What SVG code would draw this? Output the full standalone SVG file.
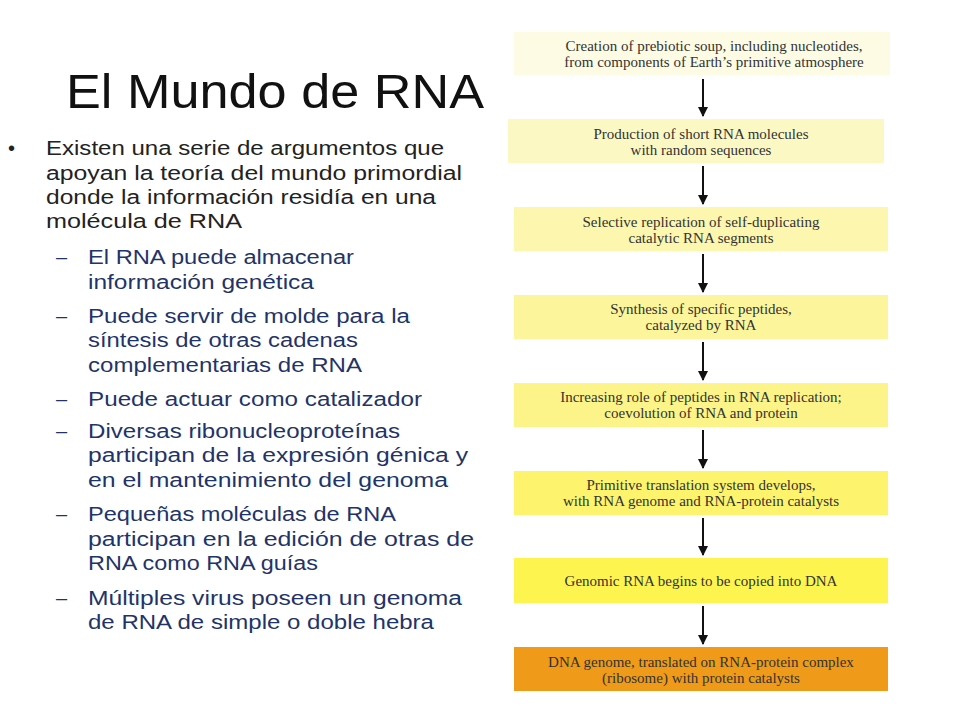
<svg xmlns="http://www.w3.org/2000/svg" width="960" height="720" viewBox="0 0 960 720">
<style>
.t{font-family:"Liberation Sans",Arial,sans-serif;font-size:20px;fill:#222}
.s{font-family:"Liberation Sans",Arial,sans-serif;font-size:20px;fill:#1f3468}
text[textLength]{}
.b{font-family:"Liberation Serif","DejaVu Serif",serif;font-size:15px;fill:#333;text-anchor:middle}
.c line{stroke:#111;stroke-width:2;marker-end:url(#a)}
</style>
<defs><marker id="a" viewBox="0 0 10 10" refX="9" refY="5" markerWidth="5" markerHeight="5" orient="auto"><path d="M0,0L10,5L0,10z" fill="#111"/></marker></defs>
<rect width="960" height="720" fill="#fff"/>
<text x="66" y="108" style="font-family:'Liberation Sans',Arial,sans-serif;font-size:48px;fill:#111" textLength="418" lengthAdjust="spacingAndGlyphs">El Mundo de RNA</text>
<g id="text" lengthAdjust="spacingAndGlyphs">
<text class="t" x="8" y="155">•</text>
<text class="t" x="46" y="155" textLength="398" lengthAdjust="spacingAndGlyphs">Existen una serie de argumentos que</text>
<text class="t" x="46" y="180" textLength="416" lengthAdjust="spacingAndGlyphs">apoyan la teoría del mundo primordial</text>
<text class="t" x="46" y="204" textLength="390" lengthAdjust="spacingAndGlyphs">donde la información residía en una</text>
<text class="t" x="46" y="228" textLength="196" lengthAdjust="spacingAndGlyphs">molécula de RNA</text>
<text class="s" x="56" y="264">–</text>
<text class="s" x="88" y="264" textLength="266" lengthAdjust="spacingAndGlyphs">El RNA puede almacenar</text>
<text class="s" x="88" y="289" textLength="226" lengthAdjust="spacingAndGlyphs">información genética</text>
<text class="s" x="56" y="323">–</text>
<text class="s" x="88" y="323" textLength="322" lengthAdjust="spacingAndGlyphs">Puede servir de molde para la</text>
<text class="s" x="88" y="347" textLength="270" lengthAdjust="spacingAndGlyphs">síntesis de otras cadenas</text>
<text class="s" x="88" y="372" textLength="274" lengthAdjust="spacingAndGlyphs">complementarias de RNA</text>
<text class="s" x="56" y="406">–</text>
<text class="s" x="88" y="406" textLength="334" lengthAdjust="spacingAndGlyphs">Puede actuar como catalizador</text>
<text class="s" x="56" y="438">–</text>
<text class="s" x="88" y="438" textLength="312" lengthAdjust="spacingAndGlyphs">Diversas ribonucleoproteínas</text>
<text class="s" x="88" y="462" textLength="380" lengthAdjust="spacingAndGlyphs">participan de la expresión génica  y</text>
<text class="s" x="88" y="487" textLength="360" lengthAdjust="spacingAndGlyphs">en el mantenimiento del genoma</text>
<text class="s" x="56" y="521">–</text>
<text class="s" x="88" y="521" textLength="308" lengthAdjust="spacingAndGlyphs">Pequeñas moléculas de RNA</text>
<text class="s" x="88" y="546" textLength="386" lengthAdjust="spacingAndGlyphs">participan en la edición de otras  de</text>
<text class="s" x="88" y="570" textLength="230" lengthAdjust="spacingAndGlyphs">RNA como RNA guías</text>
<text class="s" x="56" y="605">–</text>
<text class="s" x="88" y="605" textLength="374" lengthAdjust="spacingAndGlyphs">Múltiples virus poseen un genoma</text>
<text class="s" x="88" y="629" textLength="346" lengthAdjust="spacingAndGlyphs">de RNA de simple o doble hebra</text>
</g>
<g class="c" id="connectors">
<line x1="703" y1="79" x2="703" y2="116"/>
<line x1="703" y1="166" x2="703" y2="204"/>
<line x1="703" y1="254" x2="703" y2="292"/>
<line x1="703" y1="342" x2="703" y2="380"/>
<line x1="703" y1="430" x2="703" y2="468"/>
<line x1="703" y1="518" x2="703" y2="555"/>
<line x1="703" y1="606" x2="703" y2="644"/>
</g>
<g id="n1"><rect x="514" y="32" width="376" height="43" fill="#fdfbe3"/><text class="b" x="714" y="51">Creation of prebiotic soup, including nucleotides,</text><text class="b" x="714" y="67">from components of Earth’s primitive atmosphere</text></g>
<g id="n2"><rect x="508" y="119" width="376" height="44" fill="#fcf8c4"/><text class="b" x="701" y="139">Production of short RNA molecules</text><text class="b" x="701" y="155">with random sequences</text></g>
<g id="n3"><rect x="514" y="207" width="374" height="44" fill="#fcf6ae"/><text class="b" x="701" y="227">Selective replication of self-duplicating</text><text class="b" x="701" y="243">catalytic RNA segments</text></g>
<g id="n4"><rect x="514" y="295" width="374" height="44" fill="#fcf59c"/><text class="b" x="701" y="314">Synthesis of specific peptides,</text><text class="b" x="701" y="330">catalyzed by RNA</text></g>
<g id="n5"><rect x="514" y="383" width="374" height="44" fill="#fcf488"/><text class="b" x="701" y="402">Increasing role of peptides in RNA replication;</text><text class="b" x="701" y="418">coevolution of RNA and protein</text></g>
<g id="n6"><rect x="514" y="471" width="374" height="44" fill="#fdf36c"/><text class="b" x="701" y="490">Primitive translation system develops,</text><text class="b" x="701" y="506">with RNA genome and RNA-protein catalysts</text></g>
<g id="n7"><rect x="514" y="558" width="374" height="45" fill="#fef450"/><text class="b" x="701" y="586">Genomic RNA begins to be copied into DNA</text></g>
<g id="n8"><rect x="514" y="647" width="374" height="44" fill="#ef9a18"/><text class="b" x="701" y="667">DNA genome, translated on RNA-protein complex</text><text class="b" x="701" y="683">(ribosome) with protein catalysts</text></g>
</svg>
